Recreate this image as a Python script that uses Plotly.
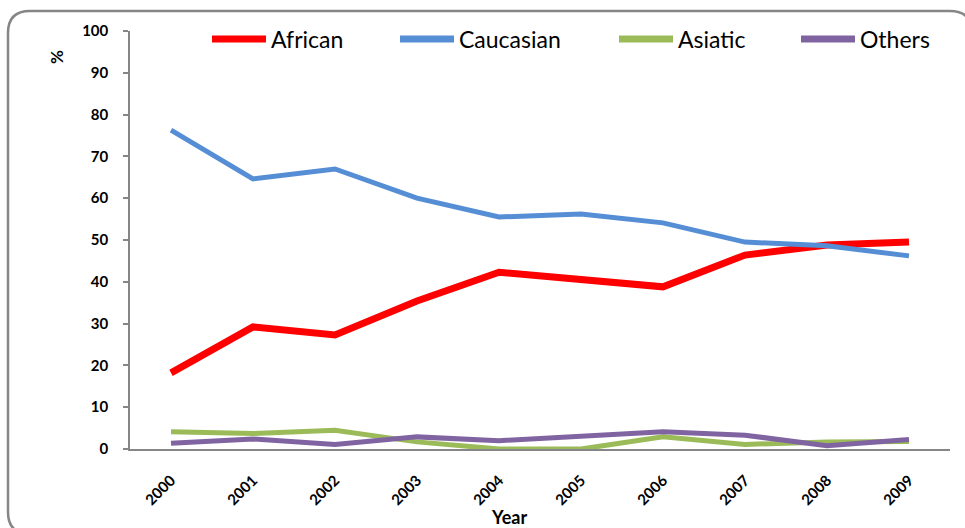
import plotly.graph_objects as go

# Share of cases by ethnic group, 2000-2009 (%)
years = ["2000", "2001", "2002", "2003", "2004", "2005", "2006", "2007", "2008", "2009"]
african = [18.2, 29.2, 27.3, 35.4, 42.3, 40.4, 38.8, 46.4, 48.8, 49.5]
caucasian = [76.3, 64.6, 67.0, 60.0, 55.5, 56.2, 54.1, 49.5, 48.6, 46.2]
asiatic = [4.1, 3.7, 4.5, 1.7, 0.0, 0.0, 2.9, 1.1, 1.7, 1.8]
others = [1.4, 2.4, 1.1, 2.9, 2.0, 3.0, 4.1, 3.3, 0.8, 2.3]

series = [
    ("African", african, "#FF0000", 7),
    ("Caucasian", caucasian, "#558ED5", 5),
    ("Asiatic", asiatic, "#9BBB59", 5),
    ("Others", others, "#8064A2", 5),
]

FONT = "Lato"
AXIS_GREY = "#868686"

fig = go.Figure()
for name, vals, color, width in series:
    fig.add_trace(go.Scatter(
        x=years, y=vals, name=name, mode="lines",
        line=dict(color=color, width=width),
        showlegend=False,
    ))

# Plot area geometry in pixels (used for placing the frame and legend)
W, H = 965, 528
L, R, T, B = 130, 15, 31, 79
pw, ph = W - L - R, H - T - B


def px_x(x):
    return (x - L) / pw


def px_y(y):
    return (H - B - y) / ph


shapes = []
annotations = []

# Rounded outer frame (right and bottom edges run past the page edge)
x0, x1 = px_x(8), px_x(972)
y0, y1 = px_y(534), px_y(11)
rx, ry = 22 / pw, 22 / ph
frame = (
    f"M {x0+rx},{y1} L {x1-rx},{y1} Q {x1},{y1} {x1},{y1-ry} "
    f"L {x1},{y0+ry} Q {x1},{y0} {x1-rx},{y0} L {x0+rx},{y0} "
    f"Q {x0},{y0} {x0},{y0+ry} L {x0},{y1-ry} Q {x0},{y1} {x0+rx},{y1} Z"
)
shapes.append(dict(type="path", xref="paper", yref="paper", path=frame,
                   line=dict(color=AXIS_GREY, width=2.5), layer="below"))

# Legend row across the top
legend_x = [212, 400, 619, 801]
legend_y = 39
for (name, _, color, width), lx in zip(series, legend_x):
    shapes.append(dict(type="line", xref="paper", yref="paper",
                       x0=px_x(lx), x1=px_x(lx + 54), y0=px_y(legend_y), y1=px_y(legend_y),
                       line=dict(color=color, width=7)))
    annotations.append(dict(text=name, xref="paper", yref="paper",
                            x=px_x(lx + 57), y=px_y(legend_y), xanchor="left", yanchor="middle",
                            showarrow=False, font=dict(family=FONT, size=23, color="#000000")))

# Axis titles
annotations.append(dict(text="<b>Year</b>", xref="paper", yref="paper",
                        x=px_x(509), y=px_y(517), xanchor="center", yanchor="middle",
                        showarrow=False, font=dict(family=FONT, size=18, color="#000000")))
annotations.append(dict(text="<b>%</b>", xref="paper", yref="paper",
                        x=px_x(56), y=px_y(57), xanchor="center", yanchor="middle",
                        textangle=-90, showarrow=False,
                        font=dict(family=FONT, size=17, color="#000000")))

fig.update_layout(
    width=W, height=H,
    margin=dict(l=L, r=R, t=T, b=B, pad=0),
    paper_bgcolor="white", plot_bgcolor="white",
    font=dict(family=FONT, color="#000000"),
    shapes=shapes, annotations=annotations,
    xaxis=dict(
        type="category", range=[-0.5, 9.5], showgrid=False, zeroline=False,
        showline=True, linecolor=AXIS_GREY, linewidth=1.5,
        ticks="", tickangle=-45, ticklabelstandoff=15,
        tickfont=dict(family=FONT, size=15, color="#000000", weight="bold"),
    ),
    yaxis=dict(
        range=[0, 100], dtick=10, showgrid=False, zeroline=False,
        showline=True, linecolor=AXIS_GREY, linewidth=1.5,
        ticks="outside", ticklen=5, tickcolor=AXIS_GREY, tickwidth=1.5,
        ticklabelstandoff=12,
        tickfont=dict(family=FONT, size=15, color="#000000", weight="bold"),
    ),
)

fig.write_html("out.html")
